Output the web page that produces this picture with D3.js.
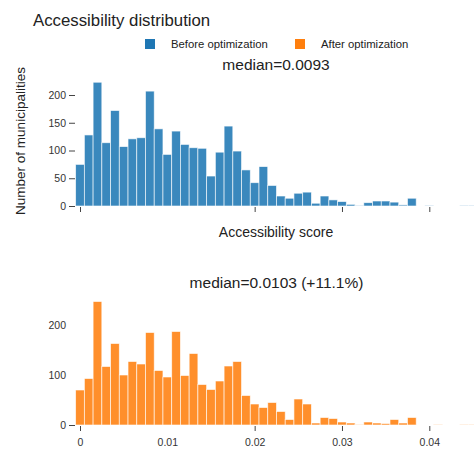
<!DOCTYPE html>
<html>
<head>
<meta charset="utf-8">
<script src="https://cdn.jsdelivr.net/npm/d3@7"></script>
<style>
  body { margin: 0; background: #fff; }
  svg { display: block; font-family: "Liberation Sans", Arial, Helvetica, sans-serif; }
  .tick text { fill: #333; font-size: 10.5px; }
  .tick line { stroke: #444; }
</style>
</head>
<body>
<div id="chart"></div>
<script>
// Data ////////////////////////////////////////
// histogram bins: first edge and width (accessibility score)
var binStart = -0.0005;
var binWidth = 0.001;

// counts per bin
var beforeCounts = [75,128,223,114,172,107,121,123,207,139,93,135,111,105,104,54,97,144,99,65,
  42,71,37,18,14,23,25,5,18,11,8,3,1,6,9,9,7,2,14,0,1,0,0,0,1,1];
var afterCounts = [70,93,247,117,163,100,127,122,185,109,96,187,99,143,81,71,88,118,127,59,
  42,35,45,27,11,52,42,4,15,13,6,4,1,6,4,3,11,4,15,0,0,1,0,0,1,1];

var seriesNames = ["Before optimization", "After optimization"];
var medianLabels = ["median=0.0093", "median=0.0103 (+11.1%)"];
var xTicks = [0, 0.01, 0.02, 0.03, 0.04];
var yTicksTop = [0, 50, 100, 150, 200];
var yTicksBottom = [0, 100, 200];

// Chart config ////////////////////////////////
var width = 474, height = 450;
var blue = "#1f77b4", orange = "#ff7f0e";

var svg = d3.select("#chart").append("svg")
    .attr("width", width)
    .attr("height", height);

var x = d3.scaleLinear().domain([0, 0.04]).range([80, 429.3]);
var yTop = d3.scaleLinear().domain([0, 200]).range([206, 95]);
var yBot = d3.scaleLinear().domain([0, 200]).range([425, 325]);

function bins(counts) {
  return counts.map(function(c, i) {
    return { x0: binStart + i * binWidth, x1: binStart + (i + 1) * binWidth, n: c };
  });
}

function drawHist(data, y, color) {
  svg.append("g").selectAll("rect")
    .data(data)
    .join("rect")
      .attr("x", function(d) { return x(d.x0); })
      .attr("width", function(d) { return x(d.x1) - x(d.x0); })
      .attr("y", function(d) { return y(d.n); })
      .attr("height", function(d) { return y(0) - y(d.n); })
      .attr("fill", color)
      .attr("fill-opacity", 0.88)
      .attr("stroke", "#fff")
      .attr("stroke-opacity", 0.75)
      .attr("stroke-width", 0.8);
}

drawHist(bins(beforeCounts), yTop, blue);
drawHist(bins(afterCounts), yBot, orange);

// axes
function yAxis(y, ticks, hideLines) {
  var g = svg.append("g")
      .attr("transform", "translate(75,0)")
      .call(d3.axisLeft(y).tickValues(ticks).tickSize(6).tickPadding(3).tickFormat(d3.format("d")));
  g.select(".domain").remove();
  if (hideLines) g.selectAll(".tick line").attr("opacity", function(d) { return d === 0 ? 1 : 0; });
}
yAxis(yTop, yTicksTop, false);
yAxis(yBot, yTicksBottom, true);

function xAxis(yPos, labels) {
  var g = svg.append("g")
      .attr("transform", "translate(0," + yPos + ")")
      .call(d3.axisBottom(x).tickValues(xTicks).tickSize(5).tickPadding(8)
        .tickFormat(labels ? function(d) { return String(d); } : ""));
  g.select(".domain").remove();
  g.selectAll(".tick line").attr("opacity", function(d) { return d === 0.01 ? 0 : 1; });
}
xAxis(207, false);
xAxis(426, true);

// texts
svg.append("text")
    .attr("x", 33).attr("y", 26)
    .attr("font-size", 16.8).attr("fill", "#222")
    .text("Accessibility distribution");

svg.append("text")
    .attr("x", 276).attr("y", 70)
    .attr("text-anchor", "middle")
    .attr("font-size", 15.5).attr("fill", "#222")
    .text(medianLabels[0]);

svg.append("text")
    .attr("x", 276.5).attr("y", 288)
    .attr("text-anchor", "middle")
    .attr("font-size", 15.5).attr("fill", "#222")
    .text(medianLabels[1]);

svg.append("text")
    .attr("transform", "translate(25,141) rotate(-90)")
    .attr("text-anchor", "middle")
    .attr("font-size", 13.5).attr("fill", "#222")
    .text("Number of municipalities");

svg.append("text")
    .attr("x", 276).attr("y", 237)
    .attr("text-anchor", "middle")
    .attr("font-size", 14).attr("fill", "#222")
    .text("Accessibility score");

// legend
var legend = svg.append("g").selectAll("g")
  .data(seriesNames)
  .join("g")
    .attr("transform", function(d, i) { return "translate(" + [145, 295][i] + ",39)"; });
legend.append("rect")
    .attr("width", 10).attr("height", 10)
    .attr("fill", function(d, i) { return i === 0 ? blue : orange; });
legend.append("text")
    .attr("x", 26).attr("y", 9)
    .attr("font-size", 11.3).attr("fill", "#222")
    .text(function(d) { return d; });
</script>
</body>
</html>
